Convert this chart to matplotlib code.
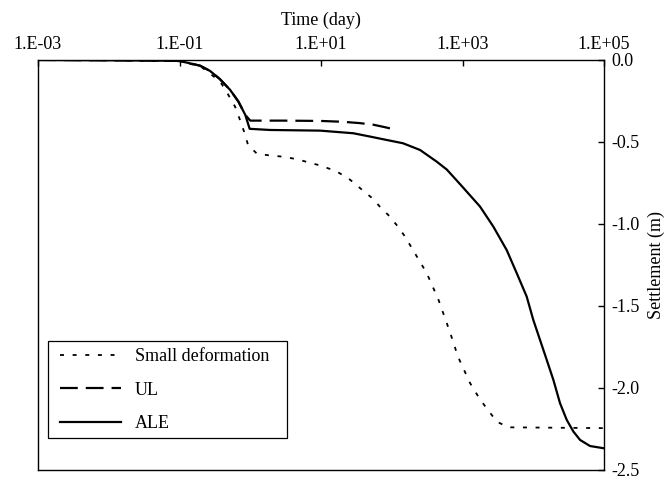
import numpy as np
import matplotlib.pyplot as plt
from matplotlib.patches import Rectangle

plt.rcParams['font.family'] = ['Liberation Serif', 'DejaVu Serif']
plt.rcParams['font.size'] = 13

# time (day) and settlement (m)
t_ale = [1e-3, 0.01, 0.05, 0.1, 0.195, 0.27, 0.37, 0.52, 0.68, 0.85, 0.98,
         1.9, 9.7, 28.6, 49, 84.9, 144, 251, 431, 598, 741, 1028, 1767, 2724,
         4207, 5834, 8072, 10000, 12450, 15490, 19230, 23880, 29720, 36900,
         45840, 63420, 1e5]
s_ale = [0.0, -0.002, -0.004, -0.006, -0.035, -0.067, -0.116, -0.183, -0.254,
         -0.335, -0.42, -0.427, -0.431, -0.447, -0.467, -0.488, -0.508, -0.549,
         -0.62, -0.668, -0.712, -0.78, -0.894, -1.016, -1.159, -1.30, -1.443,
         -1.585, -1.707, -1.829, -1.951, -2.093, -2.195, -2.266, -2.317,
         -2.354, -2.368]

t_ul = [1e-3, 0.01, 0.05, 0.1, 0.195, 0.27, 0.37, 0.52, 0.68, 0.85, 1.0,
        3, 10, 20, 35, 55, 80, 100]
s_ul = [0.0, -0.002, -0.004, -0.006, -0.035, -0.067, -0.116, -0.183, -0.254,
        -0.335, -0.37, -0.37, -0.372, -0.377, -0.385, -0.395, -0.41, -0.42]

t_small = [1e-3, 0.01, 0.1, 0.2, 0.373, 0.485, 0.61, 0.716, 0.817, 0.93,
           1.23, 1.71, 2.9, 4.53, 10.2, 16.7, 25.7, 37.6, 52, 68, 89, 117,
           154, 200, 312, 455, 665, 864, 1276, 1767, 3040, 4440, 1e5]
s_small = [0.0, -0.002, -0.008, -0.04, -0.13, -0.21, -0.285, -0.366, -0.437,
           -0.518, -0.57, -0.58, -0.59, -0.605, -0.646, -0.68, -0.73, -0.79,
           -0.84, -0.895, -0.945, -1.006, -1.077, -1.16, -1.30, -1.46, -1.66,
           -1.81, -1.97, -2.07, -2.205, -2.24, -2.245]

xticks = [1e-3, 1e-1, 1e1, 1e3, 1e5]
xtick_labels = ['1.E-03', '1.E-01', '1.E+01', '1.E+03', '1.E+05']
yticks = [0.0, -0.5, -1.0, -1.5, -2.0, -2.5]
ytick_labels = ['0.0', '-0.5', '-1.0', '-1.5', '-2.0', '-2.5']

fig = plt.figure(figsize=(6.67, 4.83), dpi=100)
ax = fig.add_axes([0.057, 0.027, 0.8486, 0.8489])

ax.plot(t_small, s_small, color='black', lw=1.3, linestyle=(0, (2.2, 4.8)),
        label='Small deformation')
ax.plot(t_ul, s_ul, color='black', lw=1.6, linestyle=(0, (8, 3.6)), label='UL')
ax.plot(t_ale, s_ale, color='black', lw=1.6, label='ALE')

ax.set_xscale('log')
ax.set_xlim(1e-3, 1e5)
ax.set_ylim(-2.5, 0)

ax.xaxis.set_ticks_position('top')
ax.xaxis.set_label_position('top')
ax.set_xticks(xticks)
ax.set_xticklabels(xtick_labels)
ax.xaxis.set_minor_locator(plt.NullLocator())
ax.set_xlabel('Time (day)', labelpad=8)

ax.yaxis.set_ticks_position('right')
ax.yaxis.set_label_position('right')
ax.set_yticks(yticks)
ax.set_yticklabels(ytick_labels)
ax.set_ylabel('Settlement (m)', labelpad=6)

ax.tick_params(direction='in', length=4.5, width=1, pad=5)
for sp in ax.spines.values():
    sp.set_linewidth(1)

# legend entries without frame, box drawn separately
ax.legend(loc='upper left', bbox_to_anchor=(0.0389, 0.2976),
          borderaxespad=0, borderpad=0, frameon=False,
          handlelength=3.4, handletextpad=0.75, labelspacing=0.92)
ax.add_patch(Rectangle((0.0177, 0.078), 0.4222, 0.2366, transform=ax.transAxes,
                       fill=False, edgecolor='black', lw=0.9, zorder=5))

fig.savefig('out.png', dpi=100)
